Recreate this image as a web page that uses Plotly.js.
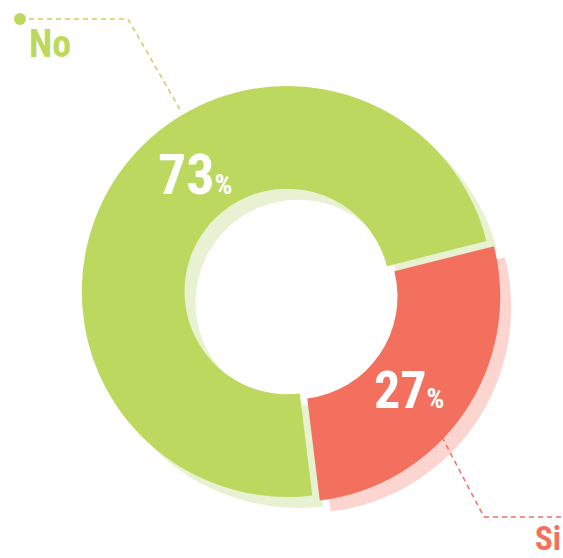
<!DOCTYPE html>
<html>
<head>
<meta charset="utf-8">
<script src="https://cdn.plot.ly/plotly-3.0.1.min.js"></script>
<style>html,body{margin:0;padding:0;background:#fff;}#chart{width:563px;height:558px;}</style>
</head>
<body>
<div id="chart"></div>
<script>
// ---- data ----
const labels = ['No', 'Si'];
const values = [73, 27];
const percentText = ['73', '27'];

// ---- styles ----
const mainColors = ['#bdd85f', '#f3705f'];
const shadowColors = ['#e8f2d2', '#fcd5d0'];
const W = 563, H = 558;
const FONT = '"Roboto Condensed", "Liberation Sans Narrow", "DejaVu Sans Condensed", "DejaVu Sans", sans-serif';

function px(x) { return x / W; }
function py(y) { return 1 - y / H; }

const pull = 0.022;
const common = {
  type: 'pie', labels: labels, values: values, sort: false,
  direction: 'clockwise', rotation: 173, hole: 0.5,
  textinfo: 'none', hoverinfo: 'none', pull: pull, showlegend: false
};

const shadow = Object.assign({}, common, {
  marker: { colors: shadowColors, line: { width: 0 } },
  domain: { x: [px(92), px(512)], y: [py(515), py(95)] }
});
const main = Object.assign({}, common, {
  marker: { colors: mainColors, line: { width: 0 } },
  domain: { x: [px(81), px(501)], y: [py(504), py(84)] }
});

const dash = '5px,4px';
const layout = {
  width: W, height: H,
  margin: { l: 0, r: 0, t: 0, b: 0 },
  paper_bgcolor: '#ffffff',
  showlegend: false,
  shapes: [
    { type: 'line', xref: 'paper', yref: 'paper', x0: px(20), y0: py(19), x1: px(128), y1: py(19),
      line: { color: mainColors[0], width: 1.5, dash: dash } },
    { type: 'line', xref: 'paper', yref: 'paper', x0: px(128), y0: py(19), x1: px(182), y1: py(113),
      line: { color: mainColors[0], width: 1.5, dash: dash } },
    { type: 'circle', xref: 'paper', yref: 'paper', x0: px(14), y0: py(13), x1: px(26), y1: py(25),
      fillcolor: mainColors[0], line: { width: 0 } },
    { type: 'line', xref: 'paper', yref: 'paper', x0: px(442), y0: py(437), x1: px(484), y1: py(517),
      line: { color: mainColors[1], width: 1.5, dash: dash } },
    { type: 'line', xref: 'paper', yref: 'paper', x0: px(484), y0: py(517), x1: px(563), y1: py(517),
      line: { color: mainColors[1], width: 1.5, dash: dash } }
  ],
  annotations: [
    { xref: 'paper', yref: 'paper', x: px(195), y: py(175), xanchor: 'center', yanchor: 'middle', showarrow: false,
      text: '<b>' + percentText[0] + '<span style="font-size:28px">%</span></b>',
      font: { family: FONT, size: 56, color: '#ffffff', stretch: 'condensed' } },
    { xref: 'paper', yref: 'paper', x: px(409), y: py(390), xanchor: 'center', yanchor: 'middle', showarrow: false,
      text: '<b>' + percentText[1] + '<span style="font-size:28px">%</span></b>',
      font: { family: FONT, size: 52, color: '#ffffff', stretch: 'condensed' } },
    { xref: 'paper', yref: 'paper', x: px(50), y: py(44), xanchor: 'center', yanchor: 'middle', showarrow: false,
      text: '<b>' + labels[0] + '</b>',
      font: { family: FONT, size: 38, color: mainColors[0], stretch: 'condensed' } },
    { xref: 'paper', yref: 'paper', x: px(548), y: py(538), xanchor: 'center', yanchor: 'middle', showarrow: false,
      borderpad: 0,
      text: '<b>' + labels[1] + '</b>',
      font: { family: FONT, size: 33, color: mainColors[1], stretch: 'condensed' } }
  ]
};

Plotly.newPlot('chart', [shadow, main], layout, { displayModeBar: false, staticPlot: true });
</script>
</body>
</html>
